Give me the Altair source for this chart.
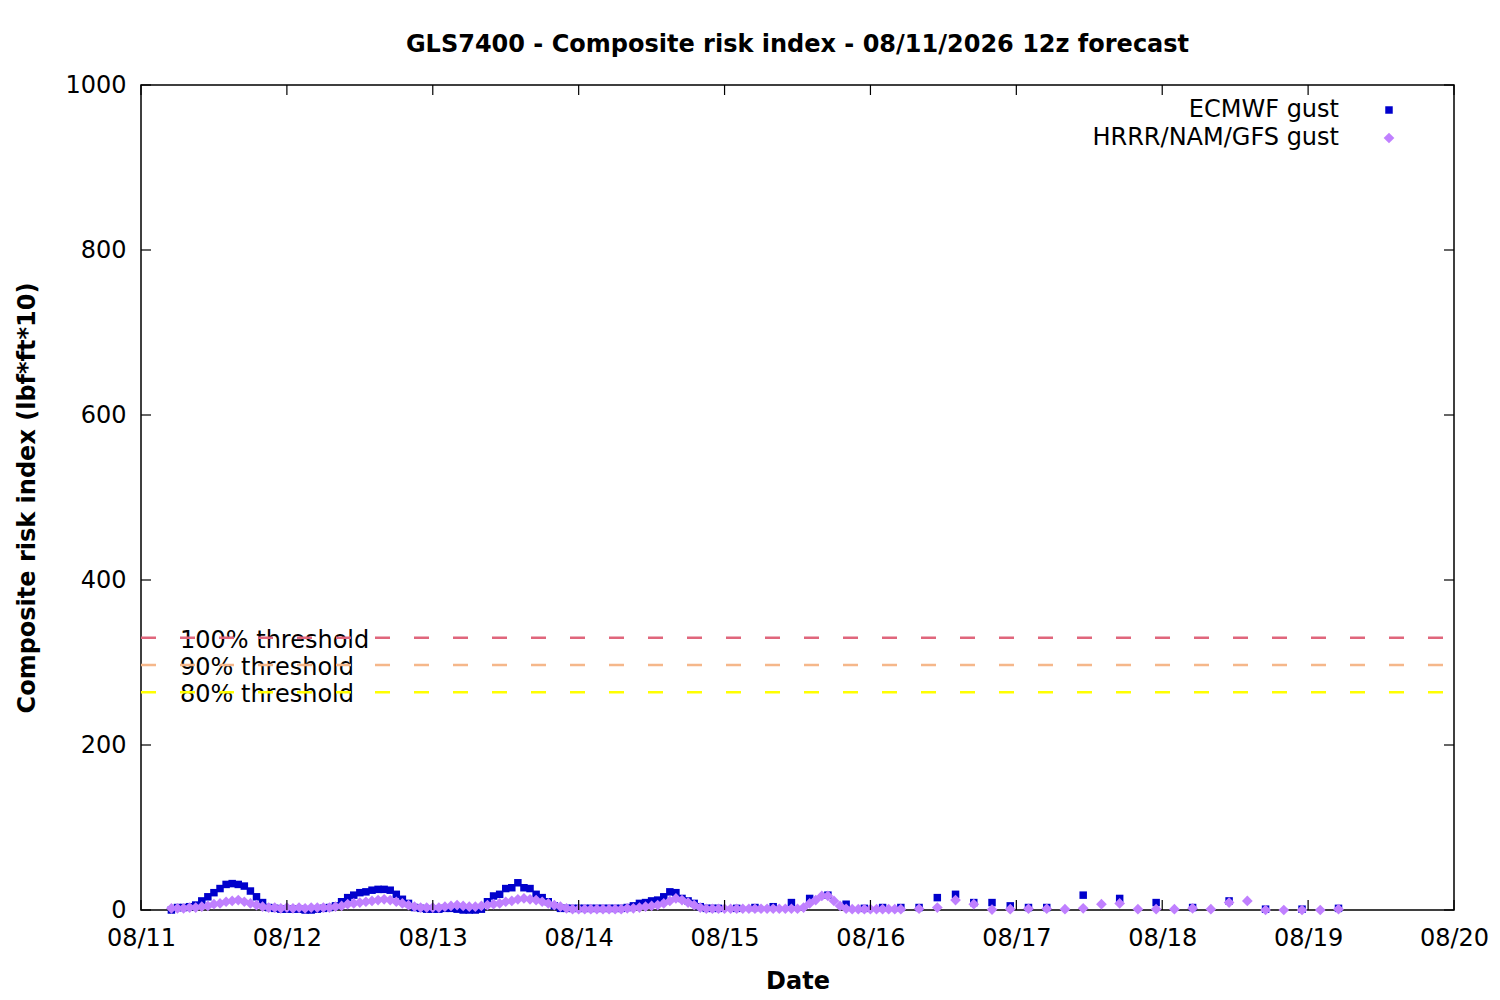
import altair as alt
import pandas as pd

FONT = "DejaVu Sans"

# ---------------- data (hours since 08/11 00:00 local) ----------------
series_names = ["ECMWF gust", "HRRR/NAM/GFS gust"]
series_colors = ["#0000cc", "#c080ff"]
series_shapes = ["square", "diamond"]

# ECMWF: hourly 5..95, 3-hourly 98..149, 6-hourly 155..197
ecmwf_hourly = [
    0, 3, 3, 4, 6, 11, 16, 21, 26, 31,
    32, 31, 29, 23, 16, 9, 3, 2, 1, 1,
    1, 1, 0, 0, 1, 2, 3, 5, 10, 15,
    18, 21, 22, 24, 25, 25, 24, 19, 13, 8,
    3, 2, 1, 1, 1, 2, 2, 1, 0, 0,
    0, 1, 10, 17, 19, 26, 27, 33, 27, 26,
    19, 15, 10, 5, 2, 2, 2, 2, 2, 2,
    2, 2, 2, 2, 2, 3, 5, 8, 9, 11,
    12, 16, 22, 21, 14, 11, 8, 4, 2, 2,
    2,
]
ecmwf_3h = [2, 3, 4, 9, 14, 18, 7, 2, 3, 3, 3, 15, 19, 9, 9, 5, 3, 3]
ecmwf_6h = [18, 14, 9, 3, 11, 1, 1, 2]

# HRRR/NAM/GFS: hourly 5..125, 3-hourly 128..197
hrrr_hourly = [
    2, 2, 2, 3, 3, 4, 5, 7, 8, 10,
    11, 12, 10, 8, 6, 4, 3, 3, 2, 3,
    2, 3, 2, 3, 3, 3, 3, 4, 5, 7,
    8, 9, 10, 11, 12, 13, 12, 10, 8, 6,
    4, 3, 3, 3, 3, 4, 5, 6, 5, 4,
    4, 5, 6, 7, 8, 10, 11, 13, 14, 13,
    12, 10, 8, 6, 4, 2, 1, 1, 1, 1,
    1, 1, 1, 1, 1, 2, 2, 3, 4, 5,
    6, 8, 11, 14, 12, 9, 6, 3, 1.5, 1.5,
    1.5, 1.5, 1.5, 1.5, 1.5, 1.5, 1.5, 1.5, 1.5, 1.5,
    1.5, 1.5, 1.5, 1.5, 3, 8, 12, 17, 17, 11,
    5, 1.5, 1, 1, 1, 1, 1, 1, 1, 1,
    1,
]
hrrr_3h = [1.5, 3, 12, 7, 0.5, 1, 1.5, 1.5, 1, 2, 7, 8, 1, 1, 1, 2, 1, 9, 11, 0, 0, 0, 0, 1]

day_ticks = [0, 24, 48, 72, 96, 120, 144, 168, 192, 216]
y_ticks = [0, 200, 400, 600, 800, 1000]

threshold_names = ["100% threshold", "90% threshold", "80% threshold"]
threshold_values = [330, 297, 264]
threshold_colors = ["#e0667c", "#f5b78a", "#ffff00"]

title_text = "GLS7400 - Composite risk index - 08/11/2026 12z forecast"

# ---------------- tables ----------------
rows = []
for h, v in zip(range(5, 96, 1), ecmwf_hourly):
    rows.append((series_names[0], h, v))
for h, v in zip(range(98, 150, 3), ecmwf_3h):
    rows.append((series_names[0], h, v))
for h, v in zip(range(155, 198, 6), ecmwf_6h):
    rows.append((series_names[0], h, v))
for h, v in zip(range(5, 126, 1), hrrr_hourly):
    rows.append((series_names[1], h, v))
for h, v in zip(range(128, 198, 3), hrrr_3h):
    rows.append((series_names[1], h, v))
df = pd.DataFrame(rows, columns=["series", "hour", "value"])
df["order"] = range(len(df))

thr = pd.DataFrame({"name": threshold_names, "value": threshold_values})
xt = pd.DataFrame({"hour": day_ticks})
yt = pd.DataFrame({"value": y_ticks})

x_scale = alt.Scale(domain=[0, 216], nice=False, zero=False)
y_scale = alt.Scale(domain=[0, 1000], nice=False, zero=False)

x_axis = alt.Axis(
    values=day_ticks,
    labelExpr="'08/' + format(11 + datum.value / 24, '02d')",
    title="Date",
    ticks=False, tickSize=0, domain=False, grid=False,
    labelFlush=False, labelOverlap=False,
    labelFont=FONT, labelFontSize=24, labelColor="black", labelPadding=16,
    titleFont=FONT, titleFontSize=24, titleFontWeight="bold", titleColor="black",
    titlePadding=19,
)
y_axis = alt.Axis(
    values=y_ticks, format="d",
    title="Composite risk index (lbf*ft*10)",
    ticks=False, tickSize=0, domain=False, grid=False,
    labelFlush=False, labelOverlap=False,
    labelFont=FONT, labelFontSize=24, labelColor="black", labelPadding=15,
    titleFont=FONT, titleFontSize=24, titleFontWeight="bold", titleColor="black",
    titlePadding=25,
)

legend = alt.Legend(
    title=None, orient="none", legendX=1236, legendY=13,
    labelFont=FONT, labelFontSize=24, labelColor="black", labelLimit=500,
    labelAlign="right", labelOffset=alt.ExprRef("-62"), padding=0, rowPadding=4,
)

points = alt.Chart(df).mark_point(filled=True, opacity=1, strokeWidth=0).encode(
    x=alt.X("hour:Q", scale=x_scale, axis=x_axis),
    y=alt.Y("value:Q", scale=y_scale, axis=y_axis),
    color=alt.Color("series:N", scale=alt.Scale(domain=series_names, range=series_colors), legend=legend),
    shape=alt.Shape("series:N", scale=alt.Scale(domain=series_names, range=series_shapes), legend=legend),
    size=alt.Size("series:N", scale=alt.Scale(domain=series_names, range=[56, 115]), legend=legend),
    order=alt.Order("order:Q"),
)

thr_text = alt.Chart(thr).mark_text(
    align="left", baseline="middle", font=FONT, fontSize=24, color="black", dy=3
).encode(
    x=alt.value(39),
    y=alt.Y("value:Q", scale=y_scale),
    text="name:N",
)

thr_lines = [
    alt.Chart(thr[thr["name"] == n]).mark_rule(strokeDash=[15, 24], strokeWidth=2.5, color=c).encode(
        y=alt.Y("value:Q", scale=y_scale),
        x=alt.datum(0), x2=alt.datum(216),
    )
    for n, c in zip(threshold_names, threshold_colors)
]

tick_style = dict(color="black", strokeWidth=1.2)
xt_bottom = alt.Chart(xt).mark_rule(**tick_style).encode(
    x=alt.X("hour:Q", scale=x_scale), y=alt.datum(0), y2=alt.datum(12.1))
xt_top = alt.Chart(xt).mark_rule(**tick_style).encode(
    x=alt.X("hour:Q", scale=x_scale), y=alt.datum(1000), y2=alt.datum(987.9))
yt_left = alt.Chart(yt).mark_rule(**tick_style).encode(
    y=alt.Y("value:Q", scale=y_scale), x=alt.datum(0), x2=alt.datum(1.65))
yt_right = alt.Chart(yt).mark_rule(**tick_style).encode(
    y=alt.Y("value:Q", scale=y_scale), x=alt.datum(216), x2=alt.datum(214.35))

chart = alt.layer(
    thr_text, *thr_lines, points, xt_bottom, xt_top, yt_left, yt_right
).properties(
    width=1313, height=825,
    title=alt.TitleParams(title_text, font=FONT, fontSize=24, fontWeight="bold",
                          color="black", anchor="middle", offset=16),
    autosize=alt.AutoSizeParams(type="none"),
    padding={"left": 133, "top": 77, "right": 38, "bottom": 90},
    background="white",
).configure_view(stroke="black", strokeWidth=1.5)

chart.save("out.html", embed_options={"renderer": "svg", "actions": False})
